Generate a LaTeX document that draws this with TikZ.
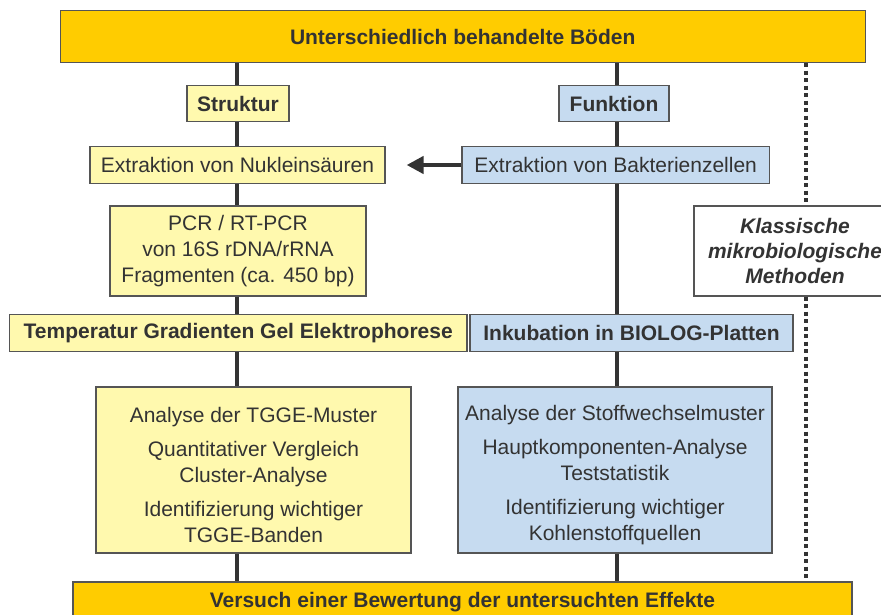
\documentclass[tikz,border=0pt]{standalone}
\usepackage{fontspec}
\setmainfont{Liberation Sans}
\usetikzlibrary{arrows.meta}
\definecolor{gold}{HTML}{FFCC00}
\definecolor{lyel}{HTML}{FFF9AE}
\definecolor{lblue}{HTML}{C6DBF0}
\definecolor{bord}{HTML}{555555}
\definecolor{txt}{HTML}{333333}
\definecolor{linec}{HTML}{333333}
\begin{document}
\begin{tikzpicture}[x=1pt,y=-1pt,
  box/.style={draw=bord, line width=1.2pt, inner sep=0pt, text=txt,
    font=\fontsize{21}{26}\selectfont, align=center},
  boldbox/.style={box, font=\fontsize{21}{26}\selectfont\bfseries},
  txtnode/.style={inner sep=0pt, text=txt, font=\fontsize{21}{26}\selectfont, align=center},
  vline/.style={draw=linec, line width=4.5pt},
  dotline/.style={draw=linec, line width=4.5pt, dash pattern=on 4pt off 3.5pt},
  arrowline/.style={draw=linec, line width=4.5pt, -{Triangle[length=17pt,width=17pt]}}
]
\useasboundingbox (0,0) rectangle (881,615);
\clip (0,0) rectangle (881,615);
\coordinate (Lx) at (237,0);
\coordinate (Rx) at (617,0);
\coordinate (Dx) at (806,0);

\node[boldbox, fill=gold, minimum width=805pt, minimum height=52pt] (top) at (462.7,36.5) {Unterschiedlich behandelte Böden};
\node[boldbox, fill=lyel, minimum width=102pt, minimum height=36pt] (struktur) at (238,103.5) {Struktur};
\node[boldbox, fill=lblue, minimum width=110pt, minimum height=36pt] (funktion) at (614,103.5) {Funktion};
\node[box, fill=lyel, minimum width=295pt, minimum height=36.5pt] (extrN) at (237.5,165) {Extraktion von Nukleinsäuren};
\node[box, fill=lblue, minimum width=307.5pt, minimum height=36.5pt] (extrB) at (615.7,165) {Extraktion von Bakterienzellen};
\node[box, fill=lyel, minimum width=256pt, minimum height=90pt] (pcr) at (238,251) {PCR / RT-PCR\\von 16S rDNA/rRNA\\Fragmenten (ca. 450 bp)};
\node[box, fill=white, minimum width=202pt, minimum height=90pt, font=\fontsize{21}{25}\selectfont\bfseries\itshape] (klass) at (795,251) {Klassische\\mikrobiologische\\Methoden};
\node[boldbox, fill=lyel, minimum width=457.5pt, minimum height=36.6pt] (temp) at (238.25,333) {Temperatur Gradienten Gel Elektrophorese};
\node[boldbox, fill=lblue, minimum width=323pt, minimum height=36.6pt] (inku) at (631.5,333) {Inkubation in BIOLOG-Platten};
\node[box, fill=lyel, minimum width=315pt, minimum height=166pt] (anaL) at (253.5,470) {};
\node[txtnode] (anaLt) at (253.5,475) {Analyse der TGGE-Muster\\[8pt]Quantitativer Vergleich\\Cluster-Analyse\\[8pt]Identifizierung wichtiger\\TGGE-Banden};
\node[box, fill=lblue, minimum width=314pt, minimum height=166pt] (anaR) at (615,470) {};
\node[txtnode] (anaRt) at (615,475) {Analyse der Stoffwechselmuster\\[8pt]Hauptkomponenten-Analyse\\Teststatistik\\[8pt]Identifizierung wichtiger\\Kohlenstoffquellen};
\node[boldbox, fill=gold, minimum width=779pt, minimum height=40pt] (bot) at (462.5,602) {Versuch einer Bewertung der untersuchten Effekte};

% left column
\draw[vline] (top.south -| Lx) -- (struktur.north -| Lx);
\draw[vline] (struktur.south -| Lx) -- (extrN.north -| Lx);
\draw[vline] (extrN.south -| Lx) -- (pcr.north -| Lx);
\draw[vline] (pcr.south -| Lx) -- (temp.north -| Lx);
\draw[vline] (temp.south -| Lx) -- (anaL.north -| Lx);
\draw[vline] (anaL.south -| Lx) -- (bot.north -| Lx);
% right column
\draw[vline] (top.south -| Rx) -- (funktion.north -| Rx);
\draw[vline] (funktion.south -| Rx) -- (extrB.north -| Rx);
\draw[vline] (extrB.south -| Rx) -- (inku.north -| Rx);
\draw[vline] (inku.south -| Rx) -- (anaR.north -| Rx);
\draw[vline] (anaR.south -| Rx) -- (bot.north -| Rx);
% dotted
\draw[dotline] (top.south -| Dx) -- (klass.north -| Dx);
\draw[dotline] (klass.south -| Dx) -- (bot.north -| Dx);
% arrow
\draw[arrowline] (extrB.west) -- ([xshift=21pt]extrN.east);
\end{tikzpicture}
\end{document}
